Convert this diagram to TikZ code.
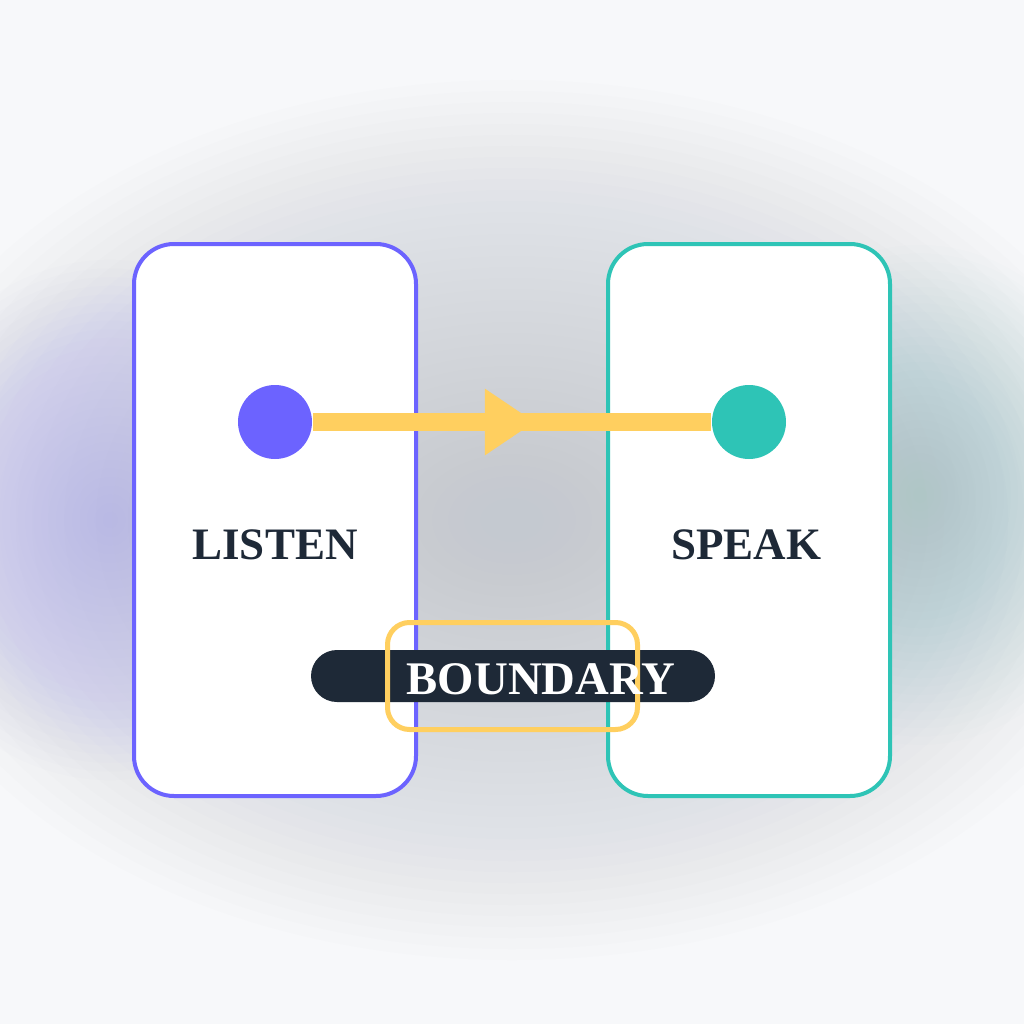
\documentclass[tikz,border=0pt]{standalone}
\usepackage{fontspec}
\setmainfont{Liberation Serif}
\usetikzlibrary{arrows.meta,decorations.markings,positioning}
\definecolor{bgc}{HTML}{F7F8FA}
\definecolor{hazec}{HTML}{C4C9D0}
\definecolor{listenc}{HTML}{6C63FF}
\definecolor{speakc}{HTML}{2EC4B6}
\definecolor{flowc}{HTML}{FFCF5F}
\definecolor{inkc}{HTML}{1E2937}
\tikzset{
  panel/.style={draw,line width=0.4mm,fill=white,rounded corners=4mm,minimum width=28.2mm,minimum height=55.2mm,inner sep=0pt},
  dot/.style={circle,inner sep=0pt,minimum size=7.4mm},
  tag/.style={text=inkc,inner sep=0pt,font=\bfseries\fontsize{12.8}{14}\selectfont},
  flow/.style={draw=flowc,line width=1.8mm,postaction={decorate},
    decoration={markings,mark=at position 0.5575 with {\arrow[color=flowc]{Triangle[length=5mm,width=6.3mm]}}}}
}
\begin{document}
\begin{tikzpicture}[x=0.1mm,y=-0.1mm]
\useasboundingbox (0,0) rectangle (1024,1024);
\fill[bgc] (0,0) rectangle (1024,1024);
% soft glows, stacked
\foreach \k in {1,...,40}{
  \fill[hazec,fill opacity=0.034] (512,520) ellipse ({16*\k} and {11*\k});
}
\foreach \k in {1,...,30}{
  \fill[listenc!55!hazec,fill opacity=0.015] (110,520) ellipse ({7.67*\k} and {8.67*\k});
  \fill[speakc!60!hazec,fill opacity=0.013] (920,495) ellipse ({7*\k} and {8.33*\k});
}
\node[panel,draw=listenc] (listen) at (275,520) {};
\node[panel,draw=speakc] (speak) at (749,520) {};
\node[dot,fill=listenc] (ldot) at (275,422) {};
\node[dot,fill=speakc] (sdot) at (749,422) {};
\draw[flow] (ldot) -- (sdot);
\node[tag] (ltext) at (275,545) {LISTEN};
\node[tag] (stext) at (746,545) {SPEAK};
\node[fill=inkc,rounded corners=2.6mm,minimum width=40.4mm,minimum height=5.2mm,inner sep=0pt] (pill) at (513,676) {};
\node[draw=flowc,line width=0.5mm,rounded corners=2.2mm,minimum width=25mm,minimum height=10.7mm,inner sep=0pt] (limit) at (512.5,676) {};
\node[tag,text=white,font=\bfseries\fontsize{13.3}{15}\selectfont] (btext) at (541,679) {BOUNDARY};
\end{tikzpicture}
\end{document}
